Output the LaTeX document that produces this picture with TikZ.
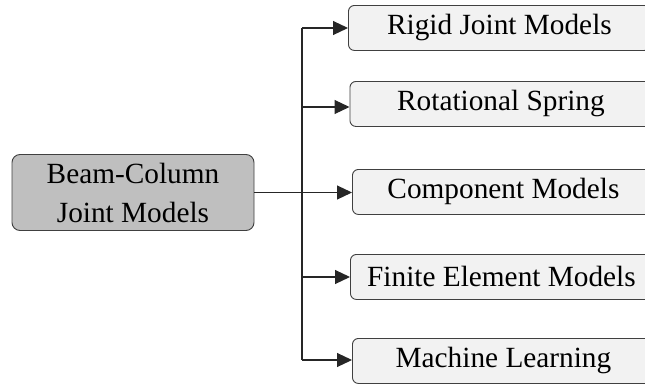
\documentclass[tikz,border=0pt]{standalone}
\usepackage{fontspec}
\setmainfont{Liberation Serif}
\usetikzlibrary{arrows.meta}
\definecolor{leaffill}{HTML}{F2F2F2}
\definecolor{rootfill}{HTML}{BFBFBF}
\definecolor{edge}{HTML}{404040}
\begin{document}
\begin{tikzpicture}[x=1pt,y=-1pt,
 leaf/.style={draw=edge, fill=leaffill, rounded corners=6pt, line width=0.9pt,
   minimum width=302pt, minimum height=45pt, inner sep=0pt, anchor=north west,
   font=\fontsize{29.3}{35}\selectfont},
 root/.style={draw=edge, fill=rootfill, rounded corners=8pt, line width=0.9pt,
   minimum width=242pt, minimum height=76pt, align=center, inner sep=0pt,
   font=\fontsize{29.3}{39}\selectfont},
 conn/.style={line width=1.1pt, draw=black!85},
 arr/.style={conn, -{Triangle[length=15pt,width=14pt]}}]
\useasboundingbox (0,0) rectangle (645,383);
\clip (0,0) rectangle (645,383);
\node[root] (root) at (133,192.5) {Beam-Column\\Joint Models};
\node[leaf] (r1) at (348,5) {Rigid Joint Models};
\node[leaf] (r2) at (349.5,81) {Rotational Spring};
\node[leaf] (r3) at (352,169) {Component Models};
\node[leaf] (r4) at (350,254) {Finite Element Models};
\node[leaf] (r5) at (352,338) {Machine Learning};
\coordinate (j1) at (302,28);
\coordinate (j2) at (302,107);
\coordinate (j4) at (302,277);
\coordinate (j5) at (302,360);
\draw[conn] (j1) -- (j5);
\draw[arr] (j1) -- (j1 -| r1.west);
\draw[arr] (j2) -- (j2 -| r2.west);
\draw[arr] (root.east) -- (root.east -| r3.west);
\draw[arr] (j4) -- (j4 -| r4.west);
\draw[arr] (j5) -- (j5 -| r5.west);
\end{tikzpicture}
\end{document}
